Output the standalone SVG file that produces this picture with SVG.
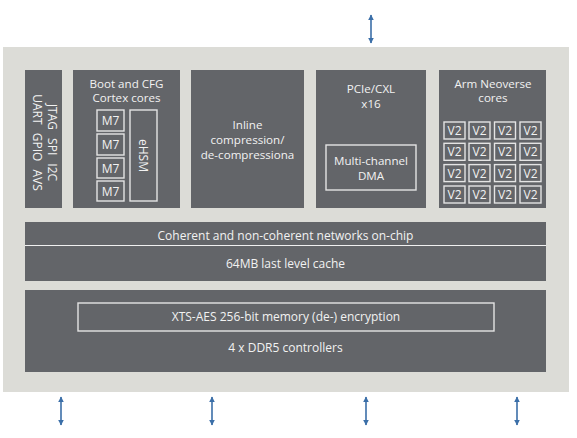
<svg xmlns="http://www.w3.org/2000/svg" width="577" height="438" viewBox="0 0 577 438">
<defs>
<marker id="ah" viewBox="0 0 10 10" refX="9" refY="5" markerWidth="3.6" markerHeight="3.6" orient="auto-start-reverse" markerUnits="strokeWidth">
<path d="M0,0 L10,5 L0,10 z" fill="#3b6fa8"/>
</marker>
</defs>
<style>
.blk{fill:#636569}
.ol{fill:none;stroke:#e4e4e4;stroke-width:1.4}
.t{font-family:"Open Sans","Noto Sans",sans-serif;font-size:12px;fill:#f2f2f2;text-anchor:middle}
.m{font-size:11.6px}
.io{word-spacing:5px}
.arr{stroke:#3b6fa8;stroke-width:1.6;fill:none;marker-start:url(#ah);marker-end:url(#ah)}
</style>
<rect id="chip" x="3" y="47" width="566" height="345" fill="#dcdcd7"/>
<g id="io">
<rect class="blk" x="25" y="70" width="37" height="138"/>
<text class="t io" transform="translate(48,142.5) rotate(90)">JTAG SPI I2C</text>
<text class="t io" transform="translate(33,142.5) rotate(90)">UART GPIO AVS</text>
</g>
<g id="boot">
<rect class="blk" x="73" y="70" width="107" height="138"/>
<text class="t m" x="126.5" y="87.5">Boot and CFG</text>
<text class="t m" x="126.5" y="102">Cortex cores</text>
<rect class="ol" x="97" y="110" width="27" height="21"/>
<rect class="ol" x="97" y="134" width="27" height="21"/>
<rect class="ol" x="97" y="158" width="27" height="20"/>
<rect class="ol" x="97" y="181" width="27" height="20"/>
<text class="t" x="110.5" y="125">M7</text>
<text class="t" x="110.5" y="149">M7</text>
<text class="t" x="110.5" y="172.5">M7</text>
<text class="t" x="110.5" y="195.5">M7</text>
<rect class="ol" x="130" y="110" width="27" height="91"/>
<text class="t" transform="translate(139.2,155.5) rotate(90)">eHSM</text>
</g>
<g id="inline">
<rect class="blk" x="191" y="70" width="113" height="138"/>
<text class="t m" x="247.5" y="128.5">Inline</text>
<text class="t m" x="247.5" y="143.5">compression/</text>
<text class="t m" x="247.5" y="158.5">de-compressiona</text>
</g>
<g id="pcie">
<rect class="blk" x="316" y="70" width="110" height="138"/>
<text class="t m" x="371" y="92.5">PCIe/CXL</text>
<text class="t m" x="371" y="107.5">x16</text>
<rect class="ol" x="326" y="145" width="90" height="45"/>
<text class="t m" x="371" y="164.5">Multi-channel</text>
<text class="t m" x="371" y="179.5">DMA</text>
</g>
<g id="arm">
<rect class="blk" x="439" y="70" width="107" height="138"/>
<text class="t m" x="493" y="87.5">Arm Neoverse</text>
<text class="t m" x="493" y="102">cores</text>
<g id="v2grid">
<rect class="ol" x="444" y="122" width="21" height="17"/><rect class="ol" x="469" y="122" width="21" height="17"/><rect class="ol" x="494.5" y="122" width="21" height="17"/><rect class="ol" x="520" y="122" width="21" height="17"/>
<rect class="ol" x="444" y="143.3" width="21" height="17"/><rect class="ol" x="469" y="143.3" width="21" height="17"/><rect class="ol" x="494.5" y="143.3" width="21" height="17"/><rect class="ol" x="520" y="143.3" width="21" height="17"/>
<rect class="ol" x="444" y="164.6" width="21" height="17"/><rect class="ol" x="469" y="164.6" width="21" height="17"/><rect class="ol" x="494.5" y="164.6" width="21" height="17"/><rect class="ol" x="520" y="164.6" width="21" height="17"/>
<rect class="ol" x="444" y="186" width="21" height="17"/><rect class="ol" x="469" y="186" width="21" height="17"/><rect class="ol" x="494.5" y="186" width="21" height="17"/><rect class="ol" x="520" y="186" width="21" height="17"/>
<text class="t" x="454.5" y="135">V2</text><text class="t" x="479.5" y="135">V2</text><text class="t" x="505" y="135">V2</text><text class="t" x="530.5" y="135">V2</text>
<text class="t" x="454.5" y="156.3">V2</text><text class="t" x="479.5" y="156.3">V2</text><text class="t" x="505" y="156.3">V2</text><text class="t" x="530.5" y="156.3">V2</text>
<text class="t" x="454.5" y="177.6">V2</text><text class="t" x="479.5" y="177.6">V2</text><text class="t" x="505" y="177.6">V2</text><text class="t" x="530.5" y="177.6">V2</text>
<text class="t" x="454.5" y="199">V2</text><text class="t" x="479.5" y="199">V2</text><text class="t" x="505" y="199">V2</text><text class="t" x="530.5" y="199">V2</text>
</g>
</g>
<g id="noc">
<rect class="blk" x="25" y="222" width="521" height="23"/>
<text class="t" x="285.5" y="239.5">Coherent and non-coherent networks on-chip</text>
</g>
<line x1="25" y1="245.5" x2="546" y2="245.5" stroke="#f0f0f0" stroke-width="1"/>
<g id="llc">
<rect class="blk" x="25" y="246" width="521" height="35"/>
<text class="t" x="285.5" y="267.5">64MB last level cache</text>
</g>
<g id="ddr">
<rect class="blk" x="25" y="290" width="521" height="82"/>
<rect class="ol" x="78" y="303" width="416" height="28"/>
<text class="t" x="286" y="320.5">XTS-AES 256-bit memory (de-) encryption</text>
<text class="t" x="285.5" y="352">4 x DDR5 controllers</text>
</g>
<g id="connectors">
<line class="arr" x1="371" y1="15" x2="371" y2="43"/>
<line class="arr" x1="61" y1="397" x2="61" y2="425"/>
<line class="arr" x1="212" y1="397" x2="212" y2="425"/>
<line class="arr" x1="366" y1="397" x2="366" y2="425"/>
<line class="arr" x1="517" y1="397" x2="517" y2="425"/>
</g>
</svg>
